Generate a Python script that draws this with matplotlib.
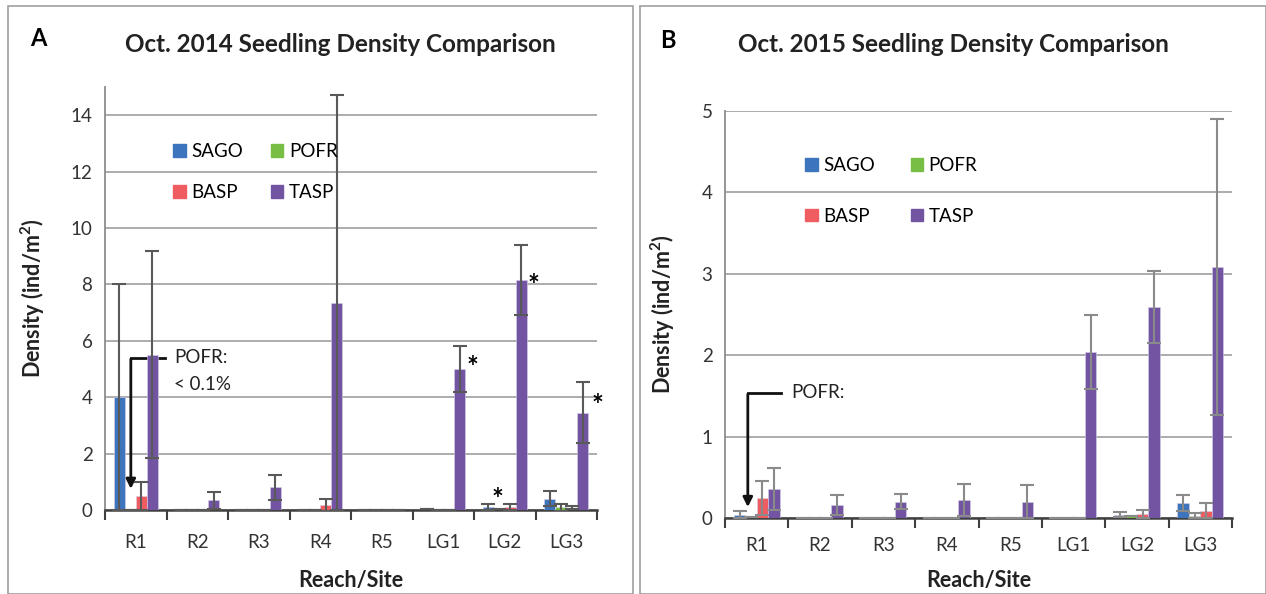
import numpy as np
import matplotlib.pyplot as plt
from matplotlib.patches import Rectangle, Patch

plt.rcParams['font.family'] = ['Lato', 'DejaVu Sans']

sites = ['R1', 'R2', 'R3', 'R4', 'R5', 'LG1', 'LG2', 'LG3']
species = ['SAGO', 'POFR', 'BASP', 'TASP']
colors = ['#3c74bd', '#78bd44', '#ef5d60', '#7254a2']

# Oct. 2014 means and errors
sago14 = [4.0, 0, 0, 0, 0, 0.02, 0.10, 0.40]
pofr14 = [0.01, 0, 0, 0, 0, 0, 0.03, 0.10]
basp14 = [0.50, 0, 0, 0.18, 0, 0, 0.10, 0.08]
tasp14 = [5.50, 0.35, 0.80, 7.35, 0, 5.0, 8.15, 3.45]
sago14_err = [4.0, 0, 0, 0, 0, 0, 0.10, 0.27]
pofr14_err = [0, 0, 0, 0, 0, 0, 0, 0.12]
basp14_err = [0.50, 0, 0, 0.20, 0, 0, 0.10, 0.06]
tasp14_err = [3.67, 0.30, 0.45, 7.35, 0, 0.80, 1.25, 1.08]

# Oct. 2015 means and errors
sago15 = [0.04, 0, 0, 0, 0, 0, 0.04, 0.18]
pofr15 = [0.01, 0, 0, 0, 0, 0, 0.02, 0.03]
basp15 = [0.25, 0, 0, 0, 0, 0, 0.05, 0.09]
tasp15 = [0.36, 0.16, 0.20, 0.22, 0.20, 2.04, 2.59, 3.08]
sago15_err = [0.04, 0, 0, 0, 0, 0, 0.03, 0.10]
pofr15_err = [0, 0, 0, 0, 0, 0, 0, 0.03]
basp15_err = [0.21, 0, 0, 0, 0, 0, 0.05, 0.09]
tasp15_err = [0.26, 0.12, 0.09, 0.20, 0.20, 0.45, 0.44, 1.82]

fig = plt.figure(figsize=(12.66, 5.94), dpi=100)

# panel frames
fig.patches.append(Rectangle((8/1266, 0), 625/1266, 1-6/594, transform=fig.transFigure,
                             fill=False, edgecolor='#a0a0a0', lw=1.2))
fig.patches.append(Rectangle((640/1266, 0), 626/1266, 1-6/594, transform=fig.transFigure,
                             fill=False, edgecolor='#a0a0a0', lw=1.2))


def panel(ax, data, errs, ecol, ymax, step, leg_anchor, leg_space, col_space,
          xpad, xlab_y, ylab_x):
    x = np.arange(len(sites))
    w = 0.18
    for i in range(4):
        ax.bar(x + (i - 1.5) * w, data[i], w, color=colors[i], edgecolor='#d8d0e8', lw=0.4,
               yerr=errs[i], error_kw=dict(ecolor=ecol, elinewidth=1.5, capsize=5, capthick=1.5),
               zorder=3)
    ax.set_xlim(-0.5, len(sites) - 0.5)
    ax.set_ylim(0, ymax)
    ax.set_yticks(np.arange(0, ymax + 0.01, step))
    ax.yaxis.grid(True, color='#a6a6a6', lw=1.3)
    ax.set_axisbelow(True)
    ax.set_xticks(x)
    ax.set_xticklabels(sites)
    ax.set_xticks(np.arange(-0.5, len(sites)), minor=True)
    ax.tick_params(axis='x', which='major', length=0, labelsize=13.5, pad=xpad, colors='#333333')
    ax.tick_params(axis='x', which='minor', length=7, width=1.5, color='#404040', direction='out')
    ax.tick_params(axis='y', length=0, labelsize=13.5, pad=9, colors='#333333')
    for s in ['top', 'right']:
        ax.spines[s].set_visible(False)
    ax.spines['left'].set_color('#8c8c8c')
    ax.spines['left'].set_linewidth(1.3)
    ax.spines['bottom'].set_color('#404040')
    ax.spines['bottom'].set_linewidth(1.8)
    ax.set_xlabel('Reach/Site', fontsize=15.5, fontweight='bold', va='center', color='#222222')
    ax.xaxis.set_label_coords(0.5, xlab_y)
    ax.set_ylabel('Density (ind/m$^\\mathregular{2}$)', fontsize=15.5, fontweight='bold',
                  va='center', color='#222222')
    ax.yaxis.set_label_coords(ylab_x, 0.5)
    handles = [Patch(color=colors[k]) for k in [0, 2, 1, 3]]
    labels = [species[k] for k in [0, 2, 1, 3]]
    ax.legend(handles, labels, ncol=2, loc='upper left', bbox_to_anchor=leg_anchor,
              frameon=False, fontsize=13.5, handlelength=0.65, handleheight=0.65,
              handletextpad=0.3, columnspacing=col_space, labelspacing=leg_space, borderpad=0)


ax1 = fig.add_axes([105/1266, 1-510/594, 492/1266, 423/594])
panel(ax1, [sago14, pofr14, basp14, tasp14],
      [sago14_err, pofr14_err, basp14_err, tasp14_err], '#595959', 15, 2,
      (0.12, 0.89), 1.3, 1.5, 17, -70/423, -0.146)

ax2 = fig.add_axes([725/1266, 1-518/594, 507/1266, 407/594])
panel(ax2, [sago15, pofr15, basp15, tasp15],
      [sago15_err, pofr15_err, basp15_err, tasp15_err], '#8a8a8a', 5, 1,
      (0.14, 0.91), 1.8, 1.9, 14, -62/407, -0.122)

fig.text(340/1266, 1-45/594, 'Oct. 2014 Seedling Density Comparison', fontsize=17.5,
         fontweight='bold', ha='center', va='center', color='#222222')
fig.text(953/1266, 1-45/594, 'Oct. 2015 Seedling Density Comparison', fontsize=17.5,
         fontweight='bold', ha='center', va='center', color='#222222')
fig.text(38/1266, 1-38/594, 'A', fontsize=17, fontweight='bold', ha='center', va='center')
fig.text(668/1266, 1-40/594, 'B', fontsize=17, fontweight='bold', ha='center', va='center')

# POFR annotations
ax1.plot([0.47, -0.08], [5.4, 5.4], color='#111111', lw=2)
ax1.annotate('', xy=(-0.08, 0.65), xytext=(-0.08, 5.45),
             arrowprops=dict(arrowstyle='-|>', color='#111111', lw=2, mutation_scale=14))
ax1.text(0.63, 5.4, 'POFR:', fontsize=13.5, va='center', color='#222222')
ax1.text(0.63, 4.45, '< 0.1%', fontsize=13.5, va='center', color='#222222')

ax2.plot([0.38, -0.14], [1.54, 1.54], color='#111111', lw=2)
ax2.annotate('', xy=(-0.14, 0.1), xytext=(-0.14, 1.555),
             arrowprops=dict(arrowstyle='-|>', color='#111111', lw=2, mutation_scale=14))
ax2.text(0.54, 1.54, 'POFR:', fontsize=13.5, va='center', color='#222222')

# significance asterisks
for xs, ys in [(5.47, 5.05), (6.47, 7.95), (5.88, 0.35), (7.5, 3.7)]:
    ax1.text(xs, ys, '*', fontsize=20, fontweight='bold', ha='center', va='center')

fig.savefig('out.png', dpi=100)
